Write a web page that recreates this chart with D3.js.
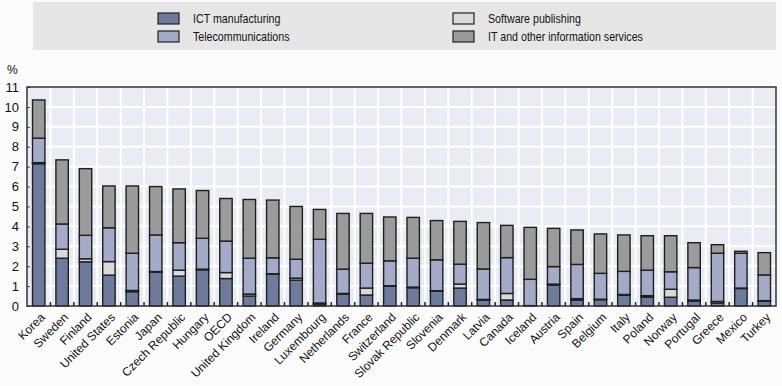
<!DOCTYPE html>
<html>
<head>
<meta charset="utf-8">
<script src="https://cdn.jsdelivr.net/npm/d3@7"></script>
<style>
  body { margin: 0; background: #fbfbfb; }
  svg { display: block; }
  text { font-family: "Liberation Sans Narrow", "Liberation Sans", Arial, sans-serif; fill: #111; }
</style>
</head>
<body>
<div class="canvas"></div>
<script>
// Data
var countries = ['Korea','Sweden','Finland','United States','Estonia','Japan','Czech Republic','Hungary','OECD','United Kingdom','Ireland','Germany','Luxembourg','Netherlands','France','Switzerland','Slovak Republic','Slovenia','Denmark','Latvia','Canada','Iceland','Austria','Spain','Belgium','Italy','Poland','Norway','Portugal','Greece','Mexico','Turkey'];
var ictManufacturing = [7.15,2.4,2.22,1.55,0.72,1.7,1.5,1.82,1.38,0.5,1.6,1.3,0.1,0.6,0.55,1.0,0.92,0.75,0.9,0.3,0.3,0.02,1.05,0.3,0.32,0.55,0.45,0.44,0.25,0.15,0.88,0.25];
var softwarePublishing = [0.05,0.45,0.15,0.68,0.06,0.03,0.3,0.03,0.3,0.1,0.02,0.1,0.05,0.03,0.35,0.02,0.03,0.02,0.2,0.03,0.33,0.0,0.05,0.07,0.02,0.03,0.07,0.4,0.05,0.08,0.02,0.02];
var telecommunications = [1.23,1.27,1.18,1.7,1.87,1.84,1.38,1.55,1.58,1.8,0.8,0.95,3.2,1.22,1.25,1.25,1.45,1.55,1.0,1.53,1.8,1.32,0.88,1.72,1.3,1.16,1.28,0.88,1.63,2.42,1.75,1.29];
var itServices = [1.92,3.22,3.35,2.1,3.38,2.43,2.7,2.4,2.14,2.95,2.9,2.65,1.5,2.8,2.5,2.2,2.05,1.97,2.15,2.33,1.62,2.61,1.92,1.73,1.98,1.83,1.73,1.81,1.25,0.43,0.1,1.12];
var yTicks = [0,1,2,3,4,5,6,7,8,9,10,11];

// Config
var width = 782, height = 386,
    margin = {left: 27, right: 6, top: 87, bottom: 80},
    colors = {ict: '#6f7b9c', sw: '#dadada', tel: '#a4aac7', it: '#9b9b9b'},
    keys = ['ict', 'sw', 'tel', 'it'];

var rows = countries.map(function (c, i) {
    return {country: c, ict: ictManufacturing[i], sw: softwarePublishing[i], tel: telecommunications[i], it: itServices[i]};
});

var svg = d3.select('.canvas').append('svg')
    .attr('width', width)
    .attr('height', height);

// Legend
svg.append('rect')
    .attr('x', 33).attr('y', 2).attr('width', 743).attr('height', 48)
    .attr('fill', '#e6e6e6');

var legendItems = [
    {key: 'ict', label: 'ICT manufacturing', x: 158, y: 13},
    {key: 'tel', label: 'Telecommunications', x: 158, y: 31},
    {key: 'sw', label: 'Software publishing', x: 453, y: 13},
    {key: 'it', label: 'IT and other information services', x: 453, y: 31}
];
var legend = svg.selectAll('.legend').data(legendItems).enter().append('g');
legend.append('rect')
    .attr('x', function (d) { return d.x; })
    .attr('y', function (d) { return d.y; })
    .attr('width', 21).attr('height', 11)
    .attr('fill', function (d) { return colors[d.key]; })
    .attr('stroke', '#222').attr('stroke-width', 1.2);
// reference font is condensed, squeeze it a bit
legend.append('text')
    .attr('transform', function (d) { return 'translate(' + (d.x + 35) + ',' + (d.y + 10) + ') scale(0.82,1)'; })
    .style('font-size', '13px')
    .text(function (d) { return d.label; });

// Scales
var x = d3.scaleBand()
    .domain(countries)
    .range([margin.left, width - margin.right])
    .paddingInner(0.47).paddingOuter(0.235);

var y = d3.scaleLinear()
    .domain([0, 11])
    .range([height - margin.bottom, margin.top]);

var plotW = width - margin.right - margin.left;

// Plot background and grid
svg.append('rect')
    .attr('x', margin.left).attr('y', margin.top)
    .attr('width', plotW).attr('height', y(0) - margin.top)
    .attr('fill', '#e9ecf3');

svg.selectAll('.hgrid').data(yTicks.slice(1, -1)).enter().append('line')
    .attr('x1', margin.left).attr('x2', width - margin.right)
    .attr('y1', function (d) { return y(d); }).attr('y2', function (d) { return y(d); })
    .attr('stroke', '#fff').attr('stroke-width', 2);

svg.selectAll('.vgrid').data(countries.slice(1)).enter().append('line')
    .attr('x1', function (d) { return x(d) - x.step() * x.paddingInner() / 2; })
    .attr('x2', function (d) { return x(d) - x.step() * x.paddingInner() / 2; })
    .attr('y1', margin.top).attr('y2', y(0))
    .attr('stroke', '#fff').attr('stroke-width', 2);

// Stacked bars
var stack = d3.stack().keys(keys)(rows);

svg.selectAll('.layer').data(stack).enter().append('g')
    .attr('fill', function (d) { return colors[d.key]; })
    .selectAll('rect').data(function (d) { return d; }).enter().append('rect')
    .attr('x', function (d) { return x(d.data.country); })
    .attr('width', x.bandwidth())
    .attr('y', function (d) { return y(d[1]); })
    .attr('height', function (d) { return Math.max(0, y(d[0]) - y(d[1])); })
    .attr('stroke', '#1e1e1e').attr('stroke-width', 1.4);

// Frame
svg.append('rect')
    .attr('x', margin.left).attr('y', margin.top)
    .attr('width', plotW).attr('height', y(0) - margin.top)
    .attr('fill', 'none').attr('stroke', '#333').attr('stroke-width', 1.5);

// Axes
var yAxis = svg.append('g')
    .attr('transform', 'translate(' + margin.left + ',0)')
    .call(d3.axisLeft(y).tickValues(yTicks).tickSize(-3).tickPadding(8));
yAxis.select('.domain').remove();
yAxis.selectAll('line').attr('stroke', '#333');
yAxis.selectAll('text').style('font-size', '13px').style('font-family', '"Liberation Sans Narrow", "Liberation Sans", Arial, sans-serif').attr('fill', '#111');

svg.append('text')
    .attr('x', 7).attr('y', 74)
    .style('font-size', '12px')
    .text('%');

// bottom category ticks between bars
svg.selectAll('.xtick').data(countries.slice(1)).enter().append('line')
    .attr('x1', function (d) { return x(d) - x.step() * x.paddingInner() / 2; })
    .attr('x2', function (d) { return x(d) - x.step() * x.paddingInner() / 2; })
    .attr('y1', y(0)).attr('y2', y(0) - 4)
    .attr('stroke', '#222').attr('stroke-width', 1.5);

svg.selectAll('.xlabel').data(countries).enter().append('text')
    .attr('transform', function (d) {
        return 'translate(' + (x(d) + x.bandwidth() / 2 + 4) + ',' + (y(0) + 9) + ') rotate(-45)';
    })
    .attr('text-anchor', 'end')
    .attr('dy', '0.35em')
    .style('font-size', '12px')
    .text(function (d) { return d; });
</script>
</body>
</html>
